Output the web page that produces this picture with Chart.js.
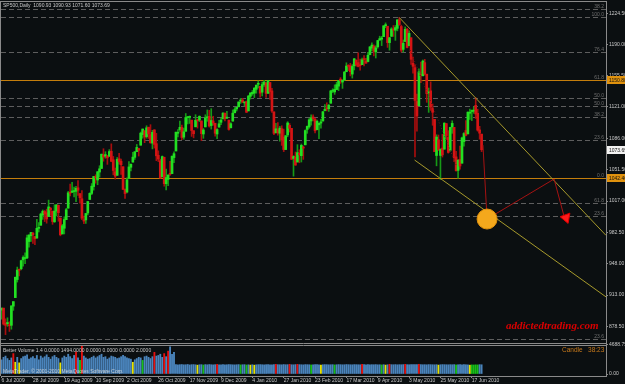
<!DOCTYPE html>
<html><head><meta charset="utf-8">
<script src="https://cdn.jsdelivr.net/npm/chart.js@4.4.0/dist/chart.umd.min.js"></script>
<style>html,body{margin:0;padding:0;background:#0b0f11;overflow:hidden}canvas{display:block}</style>
</head><body>
<canvas id="c" width="625" height="384"></canvas>
<script>
// ---- daily OHLC, 6 Jul 2009 .. 24 Jun 2010 ----
const opens = [
896.4,898.6,881.9,881.3,880.0,879.6,900.8,910.2,930.2,940.6,942.1,952.0,953.4,954.1,972.2,978.6,981.5,977.7,976.0,986.8,
990.2,1001.4,1005.4,1004.1,999.8,1008.9,1005.8,994.0,1005.9,1012.2,998.2,980.6,986.9,996.4,1009.1,1026.6,1026.6,1027.4,1027.8,1031.6,1025.2,
1019.5,996.1,996.1,1003.8,1018.7,1025.4,1033.0,1043.9,1040.2,1049.0,1053.0,1067.9,1066.6,1067.1,1066.4,1072.0,1062.6,1049.5,1045.4,1063.7,1061.0,
1054.9,1029.7,1026.9,1042.0,1054.3,1060.0,1065.3,1071.6,1075.0,1078.7,1090.4,1094.7,1088.2,1098.6,1090.4,1081.0,1095.6,1080.4,1067.5,1061.5,1043.7,1065.4,
1036.2,1040.9,1047.3,1047.3,1065.0,1072.3,1091.9,1096.0,1098.3,1087.6,1094.1,1109.2,1109.4,1106.4,1094.7,1099.0,1105.8,1106.5,1105.5,1091.1,
1098.9,1109.0,1110.6,1100.4,1105.5,1103.0,1091.1,1098.7,1104.0,1107.8,1114.1,1108.6,1106.4,1097.9,1105.3,1114.5,1118.8,1121.1,1127.5,1128.6,1125.5,1126.6,
1116.6,1132.7,1135.7,1136.3,1140.5,1146.0,1143.8,1137.3,1145.7,1147.7,1136.0,1148.0,1138.7,1115.5,1092.4,1095.8,1091.9,1096.9,1087.6,
1073.9,1090.1,1100.7,1097.3,1064.1,1065.5,1060.1,1069.7,1067.1,1076.0,1079.1,1096.1,1099.0,1105.5,1110.0,1107.5,1095.9,1101.2,1103.1,
1105.4,1117.0,1119.4,1119.1,1125.1,1138.4,1137.6,1140.2,1144.0,1151.7,1148.5,1150.8,1159.9,1166.1,1166.7,1157.3,1166.5,1172.7,1170.0,1167.6,1167.7,1173.8,1171.8,
1171.2,1178.7,1186.0,1188.2,1181.8,1187.5,1194.9,1195.9,1198.7,1210.8,1210.2,1192.1,1199.0,1207.2,1205.9,1207.9,1217.1,1209.9,1184.6,1193.3,1206.8,
1188.6,1197.5,1169.2,1164.4,1127.0,1122.3,1156.4,1155.4,1170.0,1157.2,1136.5,1138.8,1119.6,1107.3,1067.3,1084.8,1067.4,1075.5,1074.3,1102.6,
1087.3,1073.0,1098.8,1098.4,1065.8,1050.8,1062.8,1058.8,1082.7,1095.0,1091.2,1114.0,1116.0,1116.2,1122.8,1113.9,1095.6,1090.93
];
const highs = [
898.7,898.6,886.8,887.9,883.6,901.1,905.8,933.0,944.0,941.9,951.6,956.5,959.8,979.4,979.8,982.5,982.3,977.8,996.7,993.2,
1003.6,1007.1,1006.6,1008.0,1018.0,1010.1,1005.8,1012.8,1013.1,1012.6,998.2,991.2,999.6,1008.9,1027.6,1035.8,1037.7,1032.5,1033.3,1039.5,1025.2,
1028.5,1000.3,1003.4,1016.5,1026.1,1036.3,1044.1,1046.0,1049.7,1056.0,1068.8,1074.8,1071.5,1067.3,1073.8,1080.2,1066.3,1053.5,1065.1,1069.6,1063.4,
1054.9,1030.6,1042.6,1060.6,1058.0,1070.7,1071.5,1079.5,1075.3,1093.2,1096.6,1094.7,1100.2,1098.6,1101.4,1095.2,1095.8,1091.8,1072.5,1063.3,1066.8,1065.4,
1052.2,1046.4,1061.0,1066.7,1071.5,1093.2,1096.1,1105.4,1101.0,1097.6,1113.7,1110.3,1111.1,1106.4,1094.7,1112.4,1107.6,1111.2,1105.5,1097.2,
1112.3,1117.7,1117.3,1119.1,1110.7,1103.0,1097.0,1106.3,1108.5,1114.8,1114.1,1116.2,1106.4,1103.7,1117.7,1120.3,1120.8,1126.5,1130.4,1130.4,1126.4,1127.6,
1133.9,1136.6,1139.2,1142.5,1145.4,1149.7,1143.8,1148.4,1150.4,1147.8,1150.5,1148.0,1141.6,1115.5,1103.0,1103.7,1099.5,1100.2,1096.5,
1089.4,1104.7,1102.7,1097.3,1067.1,1071.2,1079.3,1073.7,1080.0,1077.8,1095.7,1100.0,1108.2,1112.4,1112.3,1108.6,1106.4,1103.5,1107.2,
1116.1,1123.5,1125.6,1123.7,1139.4,1141.1,1145.4,1148.3,1150.2,1153.4,1151.0,1160.3,1169.8,1167.8,1169.2,1167.8,1174.7,1173.0,1180.7,1173.9,1174.9,1177.8,1174.6,
1181.4,1187.7,1191.8,1189.6,1188.6,1194.7,1199.2,1199.0,1210.7,1213.9,1210.2,1197.9,1208.6,1211.0,1211.0,1217.3,1219.8,1211.4,1195.0,1209.4,1208.0,
1205.1,1197.5,1176.0,1167.6,1135.1,1163.1,1170.5,1172.9,1173.6,1157.2,1141.9,1148.7,1124.3,1107.3,1090.2,1090.0,1074.8,1090.8,1103.5,1102.6,
1094.8,1098.6,1105.7,1098.4,1071.9,1063.2,1077.7,1087.8,1092.6,1105.9,1115.6,1118.7,1117.7,1121.1,1131.2,1118.5,1099.6,1090.93
];
const lows = [
886.4,879.9,869.3,878.5,872.8,875.3,896.1,910.2,927.4,934.2,940.9,944.9,947.8,953.3,966.0,972.3,970.0,968.7,976.0,982.8,
990.2,996.7,994.3,992.5,999.8,1001.0,991.2,993.4,1000.5,994.6,978.5,980.6,980.6,996.4,1009.1,1022.5,1026.2,1021.6,1016.2,1023.1,1014.6,
996.3,992.0,992.2,1001.7,1018.7,1024.0,1029.0,1036.7,1035.0,1043.4,1052.9,1061.0,1064.3,1057.5,1066.4,1060.4,1045.9,1041.2,1045.4,1057.8,1046.5,
1029.5,1020.0,1025.9,1042.0,1050.2,1060.0,1063.0,1071.6,1066.7,1078.7,1086.4,1081.5,1086.5,1086.2,1080.8,1074.6,1075.5,1061.6,1060.6,1042.2,1043.7,1033.4,
1029.4,1033.9,1045.2,1047.3,1059.3,1072.3,1087.8,1093.8,1084.7,1085.3,1094.1,1102.2,1102.7,1088.4,1086.8,1099.0,1097.6,1104.8,1083.7,1086.3,
1098.9,1105.1,1098.7,1096.5,1100.8,1088.6,1085.9,1098.7,1101.3,1107.8,1105.4,1108.0,1095.4,1097.9,1105.3,1114.5,1116.5,1121.1,1124.9,1126.1,1121.9,1114.8,
1116.6,1129.7,1133.9,1131.3,1136.2,1142.0,1131.8,1133.2,1143.8,1131.4,1135.8,1129.3,1114.8,1090.2,1092.4,1089.9,1083.1,1078.5,1071.6,
1073.9,1088.0,1093.2,1062.8,1044.5,1056.5,1060.1,1059.3,1060.1,1063.0,1079.1,1091.8,1097.5,1100.8,1105.4,1092.2,1095.5,1086.0,1097.6,
1105.4,1116.5,1116.6,1116.0,1125.1,1136.8,1134.9,1140.1,1139.0,1147.0,1141.5,1150.3,1159.9,1161.2,1155.3,1152.9,1161.9,1166.0,1165.1,1161.5,1167.7,1166.4,1169.0,
1170.7,1178.7,1182.8,1177.3,1175.1,1186.0,1194.7,1188.8,1198.7,1208.5,1186.8,1183.7,1199.0,1198.9,1194.6,1205.1,1211.1,1181.6,1181.8,1193.3,1186.3,
1188.6,1168.1,1158.2,1065.8,1094.2,1122.3,1147.7,1155.4,1156.1,1126.1,1115.0,1117.2,1100.7,1071.6,1055.9,1072.7,1040.8,1065.6,1074.3,1084.8,
1069.9,1072.0,1091.8,1060.5,1049.9,1042.2,1052.3,1058.8,1077.5,1089.0,1091.2,1107.1,1105.9,1113.9,1108.2,1094.2,1085.3,1071.6
];
const closes = [
898.7,881.0,879.6,882.7,879.1,901.1,905.8,932.7,940.7,940.4,951.1,954.6,954.1,976.3,979.3,982.2,979.6,975.2,986.8,987.5,
1002.6,1005.7,1002.7,997.1,1010.5,1007.1,994.4,1005.8,1012.7,1004.1,979.7,989.7,996.5,1007.4,1026.1,1025.6,1028.0,1028.1,1031.0,1028.9,1020.6,
998.0,994.8,1003.2,1016.4,1025.4,1033.4,1044.1,1042.7,1049.3,1052.6,1068.8,1065.5,1068.3,1064.7,1071.7,1060.9,1050.8,1044.4,1063.0,1060.6,1057.1,
1029.9,1025.2,1040.5,1054.7,1057.6,1065.5,1071.5,1076.2,1073.2,1092.0,1096.6,1087.7,1097.9,1091.1,1081.4,1092.9,1079.6,1067.0,1063.4,1042.6,1066.1,1036.2,
1042.9,1045.4,1046.5,1066.6,1069.3,1093.1,1093.0,1098.5,1087.2,1093.5,1109.3,1110.3,1109.8,1094.9,1091.4,1106.2,1105.7,1110.6,1091.5,1095.6,
1108.9,1109.2,1099.9,1106.0,1103.3,1091.9,1096.0,1102.4,1106.4,1114.1,1107.9,1109.2,1096.1,1102.5,1114.1,1118.0,1120.6,1126.5,1127.8,1126.2,1126.4,1115.1,
1133.0,1136.5,1137.1,1141.7,1145.0,1147.0,1136.2,1145.7,1148.5,1136.0,1150.2,1138.0,1116.5,1091.8,1096.8,1092.2,1097.5,1084.5,1073.9,
1089.2,1103.3,1097.3,1063.1,1066.2,1056.7,1070.5,1068.1,1078.5,1075.5,1094.9,1099.5,1106.8,1109.2,1108.0,1094.6,1105.2,1102.9,1104.5,
1115.7,1118.3,1118.8,1123.0,1138.7,1138.5,1140.4,1145.6,1150.2,1150.0,1150.5,1159.5,1166.2,1165.8,1159.9,1165.8,1174.2,1167.7,1165.7,1166.6,1173.2,1173.3,1169.4,
1178.1,1187.4,1189.4,1182.4,1186.4,1194.4,1196.5,1197.3,1210.7,1211.7,1192.1,1197.5,1207.2,1205.9,1208.7,1217.3,1212.1,1183.7,1191.4,1206.8,1186.7,
1202.3,1173.6,1165.9,1128.2,1110.9,1159.7,1155.8,1171.7,1157.4,1135.7,1136.9,1120.8,1115.1,1071.6,1087.7,1073.7,1074.0,1068.0,1103.1,1089.4,
1070.7,1098.4,1102.8,1064.9,1050.5,1062.0,1055.7,1086.8,1091.6,1089.6,1115.2,1114.6,1116.0,1117.5,1113.2,1095.3,1092.0,1073.69
];
// ---- Better Volume histogram ----
const volumes = [
2300,2700,2900,2500,2200,2600,3300,1900,2700,1800,2500,2800,2900,3100,2400,2600,2800,2500,3000,2300,
2900,2600,2800,3100,2700,2400,2800,3000,2700,2500,1800,2600,2900,2700,3200,2800,2500,3000,3600,2600,2200,
4600,2900,2600,2400,2500,2700,2900,2600,2800,3000,3200,2700,2800,2400,2600,2900,2800,2700,2500,2600,2800,
3000,2800,2600,2500,2400,1900,2300,2500,2700,2600,2200,2800,2900,2700,2500,2800,3500,2900,3000,3200,2700,3300,
2800,3700,4400,3200,3500,
1520,1480,1510,1530,1490,1500,1540,1470,1510,1520,1490,1430,1500,1510,1460,1520,1490,1530,1500,1480,
1510,1560,1500,1490,1520,1470,1500,1530,1510,1490,1480,1500,1520,1470,1500,1510,1460,1490,1440,1500,
1430,1490,1510,1520,1500,1480,1510,1530,1500,1490,1520,1560,1510,1500,1490,1530,1500,1510,1570,1500,
1490,1520,1560,1510,1500,1480,1520,1510,1500,1470,1490,1520,1510,1500,1440,1500,1520,1510,1490,1500,
1510,1470,1500,1520,1510,1490,1500,1530,1510,1500,1490,1520,1510,1500,1490,1560,1510,1500,1520,1490,
1510,1500,1520,1490,1500,1470,1510,1440,1500,1570,1510,1500,1520,1490,1510,1500,1520,1560,1510,1500,
1520,1540,1530,1510,1570,1520,1500,1510,1490,1520,1510,1500,1490,1510,1440,1500,1520,1510,1500,1490,
1510,1500,1520,1470,1500,1510,1490,1520,1500,1480,1430,1470,1460,1480,1470,1510,1494
];
const volRed = [6,38,41,78,83,85,110,140,147,151,184,198,206,213];
const volYellow = [7,9,30,67,100,127,129,163,196,223,239];
const volGreen = [40,72,103,122,125,158,170,194,232,240,241,242,243];

// ---- axis labels ----
const dateTicks = ["6 Jul 2009","28 Jul 2009","19 Aug 2009","10 Sep 2009","2 Oct 2009","26 Oct 2009","17 Nov 2009","9 Dec 2009","4 Jan 2010","27 Jan 2010","23 Feb 2010","17 Mar 2010","9 Apr 2010","3 May 2010","25 May 2010","17 Jun 2010"];
const dateTickStep = 16;
const priceTicks = [1224.5,1207.5,1190.0,1173.0,1155.5,1138.5,1121.0,1103.5,1086.0,1068.5,1051.5,1034.5,1017.0,999.5,982.5,965.0,948.0,930.5,913.0,896.0,878.5,861.5];
const volTicks = [4688.75, 0];

// ---- drawn objects (Fibonacci levels, trendlines, projection) ----
const fibLevels = [1229.3,1220.4,1181.7,1130.9,1122.1,1109.9,1084.4,1014.8,1000.4,864.5];
const fibLabels = ["38.2","100.0","76.4","50.0","50.0","38.2","23.6","61.8","23.6","23.6"];
const keyLevels = [1150.8,1042.4];
const keyLabels = ["61.8","0.0"];
const lastPrice = 1073.69;
const upperTrend = [{x:203,y:1219.8},{x:308.5,y:979}];
const lowerTrend = [{x:210.8,y:1062.3},{x:308.5,y:911}];
const dottedTrend = [{x:208.5,y:1183.9},{x:232,y:1056.8}];
const projPath = [{x:245.7,y:1078.8},{x:247.8,y:997.1},{x:282,y:1041.3},{x:287.6,y:996}];
const targetPoint = [{x:247.8,y:997.1}];
const arrowHead = [{x:288.1,y:998.5}];

const FONT = "'Liberation Sans', Arial, sans-serif";
const idx = closes.map((_, i) => i);
const up = i => closes[i] >= opens[i];
const volColor = i => volRed.includes(i) ? '#e41010' : volYellow.includes(i) ? '#e8e400' : volGreen.includes(i) ? '#18c018' : '#4a84bc';

const overlay = {
  id: 'overlay',
  beforeDraw(chart) {
    const c = chart.ctx;
    c.save(); c.fillStyle = '#0b0f11'; c.fillRect(0, 0, chart.width, chart.height); c.restore();
  },
  beforeDatasetsDraw(chart) {
    const c = chart.ctx, a = chart.chartArea, y = chart.scales.y;
    c.save();
    c.font = '5px ' + FONT;
    c.textAlign = 'right'; c.textBaseline = 'bottom';
    c.setLineDash([5, 3]); c.strokeStyle = '#5e5e5e'; c.lineWidth = 1;
    fibLevels.forEach((v, k) => {
      const py = Math.round(y.getPixelForValue(v)) + 0.5;
      c.beginPath(); c.moveTo(a.left, py); c.lineTo(a.right, py); c.stroke();
      c.fillStyle = '#6e6e6e'; c.fillText(fibLabels[k], a.right - 2, py - 0.5);
    });
    c.setLineDash([]);
    keyLevels.forEach((v, k) => {
      const py = Math.round(y.getPixelForValue(v)) + 0.5;
      c.strokeStyle = '#c47e0c'; c.lineWidth = 1.2;
      c.beginPath(); c.moveTo(a.left, py); c.lineTo(a.right, py); c.stroke();
      c.fillStyle = '#6e6e6e'; c.fillText(keyLabels[k], a.right - 2, py - 0.5);
    });
    c.restore();
  },
  afterDraw(chart) {
    const c = chart.ctx, a = chart.chartArea, y = chart.scales.y;
    c.save();
    c.strokeStyle = '#8a8a8a'; c.lineWidth = 1;
    const pb = Math.round(y.bottom);
    c.beginPath();
    c.moveTo(a.left - 0.5, a.top + 0.5); c.lineTo(a.right, a.top + 0.5);
    c.moveTo(a.left - 0.5, a.top); c.lineTo(a.left - 0.5, a.bottom);
    c.moveTo(a.left, pb - 0.5); c.lineTo(a.right, pb - 0.5);
    c.moveTo(a.left, pb + 1.5); c.lineTo(a.right, pb + 1.5);
    c.moveTo(a.left, a.bottom + 0.5); c.lineTo(a.right, a.bottom + 0.5);
    c.stroke();
    c.font = '5px ' + FONT; c.textBaseline = 'middle'; c.textAlign = 'left';
    const box = (v, fill, txt) => {
      const py = Math.round(y.getPixelForValue(v));
      c.fillStyle = fill; c.fillRect(a.right + 1, py - 4, 19, 8);
      c.fillStyle = '#111'; c.fillText(txt, a.right + 3, py + 0.5);
    };
    box(keyLevels[0], '#e0920e', keyLevels[0].toFixed(2));
    box(keyLevels[1], '#e0920e', keyLevels[1].toFixed(2));
    box(lastPrice, '#f2f2f2', lastPrice.toFixed(2));
    c.fillStyle = '#c8c8c8';
    c.fillText('SP500,Daily  ' + opens[245].toFixed(2) + ' ' + highs[245].toFixed(2) + ' ' + lows[245].toFixed(2) + ' ' + closes[245].toFixed(2), 3, 6);
    c.fillText('Better Volume 1.4 0.0000 ' + volumes[245].toFixed(4) + ' 0.0000 0.0000 0.0000 2.0000', 3, 351);
    c.fillStyle = 'rgba(225,225,225,0.8)';
    c.fillText('MetaTrader, \u00a9 2001-2010 MetaQuotes Software Corp.', 3, 372);
    c.fillStyle = '#c87a1c'; c.font = '6.5px ' + FONT;
    c.fillText('Candle   38:23', 562, 350);
    c.fillStyle = '#d80000'; c.font = 'italic bold 11px "Liberation Serif", serif';
    c.fillText('addictedtrading.com', 506, 326);
    c.restore();
  }
};

new Chart(document.getElementById('c'), {
  type: 'bar',
  data: {
    datasets: [
      { type: 'line', data: targetPoint, order: 0, showLine: false, pointRadius: 10, pointStyle: 'circle',
        pointBackgroundColor: '#f4a81c', pointBorderColor: '#e0900c', pointBorderWidth: 1, clip: false },
      { type: 'line', data: arrowHead, order: 0, showLine: false, pointRadius: 6, pointStyle: 'triangle', pointRotation: 160,
        pointBackgroundColor: '#ff1a1a', pointBorderColor: '#e00000', pointBorderWidth: 1, clip: false },
      { type: 'line', data: projPath, order: 1, borderColor: '#a51212', borderWidth: 1, pointRadius: 0, tension: 0 },
      { type: 'line', data: upperTrend, order: 2, borderColor: '#a79a2c', borderWidth: 1, pointRadius: 0 },
      { type: 'line', data: lowerTrend, order: 2, borderColor: '#a79a2c', borderWidth: 1, pointRadius: 0 },
      { type: 'line', data: dottedTrend, order: 2, borderColor: '#5a1a1a', borderWidth: 1, borderDash: [1, 2], pointRadius: 0 },
      { label: 'body', data: idx.map(i => ({ x: i, y: [opens[i], closes[i]] })), order: 4, grouped: false,
        barThickness: 2, minBarLength: 1, backgroundColor: idx.map(i => up(i) ? '#22e022' : '#d41414') },
      { label: 'wick', data: idx.map(i => ({ x: i, y: [lows[i], highs[i]] })), order: 5, grouped: false,
        barThickness: 1, backgroundColor: idx.map(i => up(i) ? '#169a16' : '#a80e0e') },
      { label: 'volume', data: idx.map(i => ({ x: i, y: volumes[i] })), yAxisID: 'yv', order: 6, grouped: false,
        barThickness: 1.2, backgroundColor: idx.map(volColor) }
    ]
  },
  options: {
    responsive: false, animation: false, devicePixelRatio: 1,
    layout: { autoPadding: false, padding: { top: 1, left: 1, right: 0, bottom: 0 } },
    plugins: { legend: { display: false }, tooltip: { enabled: false } },
    scales: {
      x: {
        type: 'linear', position: 'bottom', min: -0.3, max: 308.5, offset: false,
        afterBuildTicks: s => { s.ticks = dateTicks.map((_, k) => ({ value: k * dateTickStep })); },
        afterFit: s => { s.height = 8; s.paddingLeft = 0; s.paddingRight = 0; },
        ticks: { autoSkip: false, maxRotation: 0, minRotation: 0, align: 'start', padding: 0, color: '#c8c8c8',
          font: { family: FONT, size: 5 }, callback: v => dateTicks[Math.round(v / dateTickStep)] },
        grid: { display: true, drawOnChartArea: false, offset: false, tickLength: 2, color: '#8a8a8a' },
        border: { display: false }
      },
      y: {
        type: 'linear', position: 'right', stack: 'r', stackWeight: 343, min: 858.94, max: 1238.1,
        afterBuildTicks: s => { s.ticks = priceTicks.map(v => ({ value: v })); },
        afterFit: s => { s.width = 19; s.paddingTop = 0; s.paddingBottom = 0; },
        ticks: { padding: 1, color: '#c8c8c8', font: { family: FONT, size: 5 }, callback: v => v.toFixed(2) },
        grid: { display: true, drawOnChartArea: false, tickLength: 2, color: '#8a8a8a' },
        border: { color: '#8a8a8a' }
      },
      yv: {
        type: 'linear', position: 'right', stack: 'r', stackWeight: 32, min: -323, max: 4850,
        afterBuildTicks: s => { s.ticks = volTicks.map(v => ({ value: v })); },
        afterFit: s => { s.width = 19; s.paddingTop = 0; s.paddingBottom = 0; },
        ticks: { padding: 1, color: '#c8c8c8', font: { family: FONT, size: 5 }, callback: v => v.toFixed(2) },
        grid: { display: true, drawOnChartArea: false, tickLength: 2, color: '#8a8a8a' },
        border: { color: '#8a8a8a' }
      }
    }
  },
  plugins: [overlay]
});
</script>
</body></html>
